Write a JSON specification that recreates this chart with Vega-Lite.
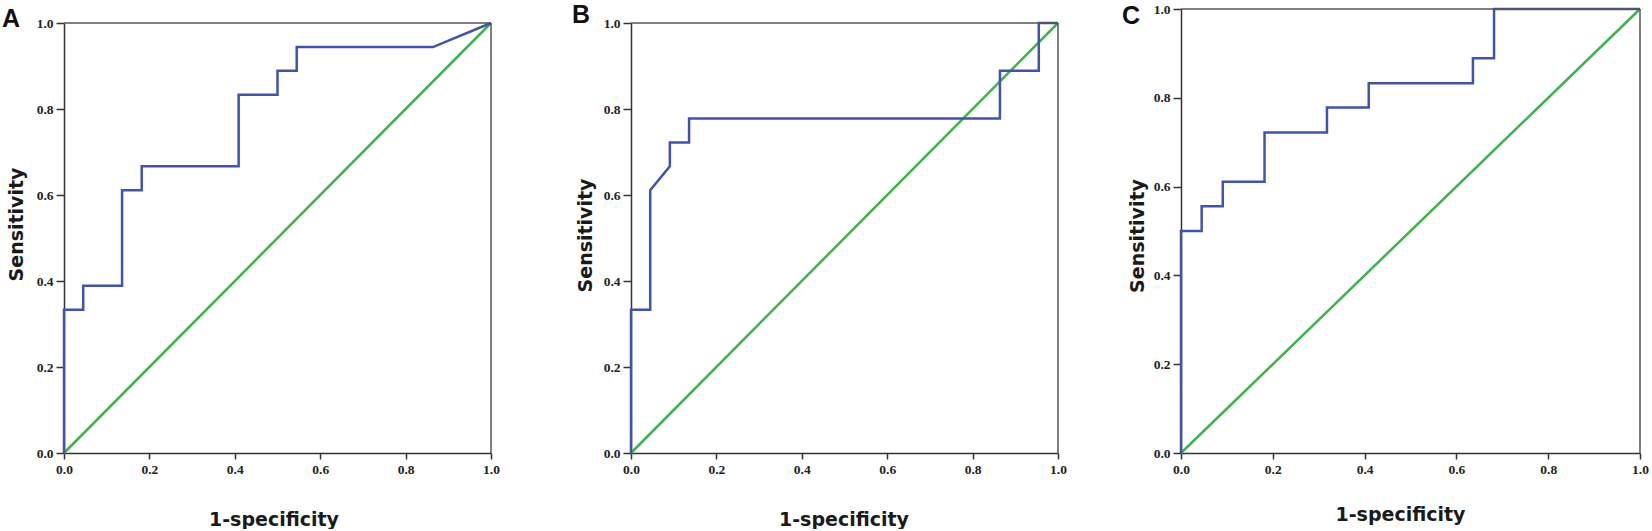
{
  "$schema": "https://vega.github.io/schema/vega-lite/v6.json",
  "description": "Three ROC curves (A, B, C) with the chance diagonal.",
  "background": "white",
  "padding": {"left": 2, "top": 2, "right": 0, "bottom": 0},
  "data": {
    "values": [
      {"panel": "A", "s": "ref", "i": 0, "x": 0, "y": 0},
      {"panel": "A", "s": "ref", "i": 1, "x": 1, "y": 1},
      {"panel": "A", "s": "roc", "i": 0, "x": 0, "y": 0},
      {"panel": "A", "s": "roc", "i": 1, "x": 0, "y": 0.333},
      {"panel": "A", "s": "roc", "i": 2, "x": 0.045, "y": 0.333},
      {"panel": "A", "s": "roc", "i": 3, "x": 0.045, "y": 0.389},
      {"panel": "A", "s": "roc", "i": 4, "x": 0.136, "y": 0.389},
      {"panel": "A", "s": "roc", "i": 5, "x": 0.136, "y": 0.611},
      {"panel": "A", "s": "roc", "i": 6, "x": 0.182, "y": 0.611},
      {"panel": "A", "s": "roc", "i": 7, "x": 0.182, "y": 0.667},
      {"panel": "A", "s": "roc", "i": 8, "x": 0.409, "y": 0.667},
      {"panel": "A", "s": "roc", "i": 9, "x": 0.409, "y": 0.833},
      {"panel": "A", "s": "roc", "i": 10, "x": 0.5, "y": 0.833},
      {"panel": "A", "s": "roc", "i": 11, "x": 0.5, "y": 0.889},
      {"panel": "A", "s": "roc", "i": 12, "x": 0.545, "y": 0.889},
      {"panel": "A", "s": "roc", "i": 13, "x": 0.545, "y": 0.944},
      {"panel": "A", "s": "roc", "i": 14, "x": 0.864, "y": 0.944},
      {"panel": "A", "s": "roc", "i": 15, "x": 1, "y": 1},
      {"panel": "B", "s": "ref", "i": 0, "x": 0, "y": 0},
      {"panel": "B", "s": "ref", "i": 1, "x": 1, "y": 1},
      {"panel": "B", "s": "roc", "i": 0, "x": 0, "y": 0},
      {"panel": "B", "s": "roc", "i": 1, "x": 0, "y": 0.333},
      {"panel": "B", "s": "roc", "i": 2, "x": 0.045, "y": 0.333},
      {"panel": "B", "s": "roc", "i": 3, "x": 0.045, "y": 0.611},
      {"panel": "B", "s": "roc", "i": 4, "x": 0.091, "y": 0.667},
      {"panel": "B", "s": "roc", "i": 5, "x": 0.091, "y": 0.722},
      {"panel": "B", "s": "roc", "i": 6, "x": 0.136, "y": 0.722},
      {"panel": "B", "s": "roc", "i": 7, "x": 0.136, "y": 0.778},
      {"panel": "B", "s": "roc", "i": 8, "x": 0.864, "y": 0.778},
      {"panel": "B", "s": "roc", "i": 9, "x": 0.864, "y": 0.889},
      {"panel": "B", "s": "roc", "i": 10, "x": 0.955, "y": 0.889},
      {"panel": "B", "s": "roc", "i": 11, "x": 0.955, "y": 1},
      {"panel": "B", "s": "roc", "i": 12, "x": 1, "y": 1},
      {"panel": "C", "s": "ref", "i": 0, "x": 0, "y": 0},
      {"panel": "C", "s": "ref", "i": 1, "x": 1, "y": 1},
      {"panel": "C", "s": "roc", "i": 0, "x": 0, "y": 0},
      {"panel": "C", "s": "roc", "i": 1, "x": 0, "y": 0.5},
      {"panel": "C", "s": "roc", "i": 2, "x": 0.045, "y": 0.5},
      {"panel": "C", "s": "roc", "i": 3, "x": 0.045, "y": 0.556},
      {"panel": "C", "s": "roc", "i": 4, "x": 0.091, "y": 0.556},
      {"panel": "C", "s": "roc", "i": 5, "x": 0.091, "y": 0.611},
      {"panel": "C", "s": "roc", "i": 6, "x": 0.182, "y": 0.611},
      {"panel": "C", "s": "roc", "i": 7, "x": 0.182, "y": 0.722},
      {"panel": "C", "s": "roc", "i": 8, "x": 0.318, "y": 0.722},
      {"panel": "C", "s": "roc", "i": 9, "x": 0.318, "y": 0.778},
      {"panel": "C", "s": "roc", "i": 10, "x": 0.409, "y": 0.778},
      {"panel": "C", "s": "roc", "i": 11, "x": 0.409, "y": 0.833},
      {"panel": "C", "s": "roc", "i": 12, "x": 0.636, "y": 0.833},
      {"panel": "C", "s": "roc", "i": 13, "x": 0.636, "y": 0.889},
      {"panel": "C", "s": "roc", "i": 14, "x": 0.682, "y": 0.889},
      {"panel": "C", "s": "roc", "i": 15, "x": 0.682, "y": 1},
      {"panel": "C", "s": "roc", "i": 16, "x": 1, "y": 1}
    ]
  },
  "bounds": "flush",
  "spacing": 123,
  "hconcat": [
    {
      "width": 444,
      "height": 444,
      "title": {"text": "A", "dx": -62, "dy": 27},
      "layer": [
        {
          "transform": [{"filter": "datum.panel === 'A' && datum.s === 'ref'"}],
          "mark": {"type": "line", "color": "#3cb44a", "strokeWidth": 2.5},
          "encoding": {
            "x": {"field": "x", "type": "quantitative", "scale": {"domain": [0, 1], "nice": false, "range": [0, 427]},
              "axis": {"title": "1-specificity", "values": [0, 0.2, 0.4, 0.6, 0.8, 1], "format": ".1f", "titleX": 209.5, "titleY": 72}},
            "y": {"field": "y", "type": "quantitative", "scale": {"domain": [0, 1], "nice": false, "range": [444, 14]},
              "axis": {"title": "Sensitivity", "values": [0, 0.2, 0.4, 0.6, 0.8, 1], "format": ".1f", "titleX": -42, "titleY": 215}},
            "order": {"field": "i"}
          }
        },
        {
          "transform": [{"filter": "datum.panel === 'A' && datum.s === 'roc'"}],
          "mark": {"type": "line", "color": "#4153b1", "strokeWidth": 2.5},
          "encoding": {
            "x": {"field": "x", "type": "quantitative"},
            "y": {"field": "y", "type": "quantitative"},
            "order": {"field": "i"}
          }
        },
        {
          "transform": [{"filter": "datum.panel === 'A' && datum.s === 'ref' && datum.i === 0"}],
          "mark": {"type": "rule", "color": "#555", "strokeWidth": 1.5},
          "encoding": {"x": {"datum": 1}, "y": {"datum": 0}, "y2": {"datum": 1}}
        },
        {
          "transform": [{"filter": "datum.panel === 'A' && datum.s === 'ref' && datum.i === 0"}],
          "mark": {"type": "rule", "color": "#555", "strokeWidth": 1.5},
          "encoding": {"x": {"datum": 0}, "x2": {"datum": 1}, "y": {"datum": 1}}
        }
      ]
    },
    {
      "width": 427,
      "height": 444,
      "title": {"text": "B", "dx": -59, "dy": 23},
      "layer": [
        {
          "transform": [{"filter": "datum.panel === 'B' && datum.s === 'ref'"}],
          "mark": {"type": "line", "color": "#3cb44a", "strokeWidth": 2.5},
          "encoding": {
            "x": {"field": "x", "type": "quantitative", "scale": {"domain": [0, 1], "nice": false},
              "axis": {"title": "1-specificity", "values": [0, 0.2, 0.4, 0.6, 0.8, 1], "format": ".1f", "titleX": 212.5, "titleY": 72}},
            "y": {"field": "y", "type": "quantitative", "scale": {"domain": [0, 1], "nice": false, "range": [444, 14]},
              "axis": {"title": "Sensitivity", "values": [0, 0.2, 0.4, 0.6, 0.8, 1], "format": ".1f", "titleX": -40, "titleY": 226}},
            "order": {"field": "i"}
          }
        },
        {
          "transform": [{"filter": "datum.panel === 'B' && datum.s === 'roc'"}],
          "mark": {"type": "line", "color": "#4153b1", "strokeWidth": 2.5},
          "encoding": {
            "x": {"field": "x", "type": "quantitative"},
            "y": {"field": "y", "type": "quantitative"},
            "order": {"field": "i"}
          }
        },
        {
          "transform": [{"filter": "datum.panel === 'B' && datum.s === 'ref' && datum.i === 0"}],
          "mark": {"type": "rule", "color": "#555", "strokeWidth": 1.5},
          "encoding": {"x": {"datum": 1}, "y": {"datum": 0}, "y2": {"datum": 1}}
        },
        {
          "transform": [{"filter": "datum.panel === 'B' && datum.s === 'ref' && datum.i === 0"}],
          "mark": {"type": "rule", "color": "#555", "strokeWidth": 1.5},
          "encoding": {"x": {"datum": 0}, "x2": {"datum": 1}, "y": {"datum": 1}}
        }
      ]
    },
    {
      "width": 459,
      "height": 444,
      "title": {"text": "C", "dx": -59, "dy": 31},
      "layer": [
        {
          "transform": [{"filter": "datum.panel === 'C' && datum.s === 'ref'"}],
          "mark": {"type": "line", "color": "#3cb44a", "strokeWidth": 2.5},
          "encoding": {
            "x": {"field": "x", "type": "quantitative", "scale": {"domain": [0, 1], "nice": false},
              "axis": {"title": "1-specificity", "values": [0, 0.2, 0.4, 0.6, 0.8, 1], "format": ".1f", "titleX": 219, "titleY": 67}},
            "y": {"field": "y", "type": "quantitative", "scale": {"domain": [0, 1], "nice": false},
              "axis": {"title": "Sensitivity", "values": [0, 0.2, 0.4, 0.6, 0.8, 1], "format": ".1f", "titleX": -38, "titleY": 226.5}},
            "order": {"field": "i"}
          }
        },
        {
          "transform": [{"filter": "datum.panel === 'C' && datum.s === 'roc'"}],
          "mark": {"type": "line", "color": "#4153b1", "strokeWidth": 2.5},
          "encoding": {
            "x": {"field": "x", "type": "quantitative"},
            "y": {"field": "y", "type": "quantitative"},
            "order": {"field": "i"}
          }
        },
        {
          "transform": [{"filter": "datum.panel === 'C' && datum.s === 'ref' && datum.i === 0"}],
          "mark": {"type": "rule", "color": "#555", "strokeWidth": 1.5},
          "encoding": {"x": {"datum": 1}, "y": {"datum": 0}, "y2": {"datum": 1}}
        },
        {
          "transform": [{"filter": "datum.panel === 'C' && datum.s === 'ref' && datum.i === 0"}],
          "mark": {"type": "rule", "color": "#555", "strokeWidth": 1.5},
          "encoding": {"x": {"datum": 0}, "x2": {"datum": 1}, "y": {"datum": 1}}
        }
      ]
    }
  ],
  "config": {
    "view": {"stroke": null},
    "axis": {
      "grid": false,
      "domainColor": "#333",
      "domainWidth": 1.5,
      "tickColor": "#333",
      "tickWidth": 1.5,
      "labelFont": "Liberation Serif",
      "labelFontWeight": "bold",
      "labelFontSize": 13.5,
      "labelColor": "#222",
      "labelFlush": false,
      "labelOverlap": false,
      "titleFont": "DejaVu Sans",
      "titleFontWeight": "bold",
      "titleFontSize": 19,
      "titleColor": "#1a1a1a",
      "titleBaseline": "alphabetic",
      "zindex": 1
    },
    "axisX": {"tickSize": 6, "labelPadding": 3},
    "axisY": {"tickSize": 8, "labelPadding": 3, "titleAngle": 270},
    "title": {
      "font": "Liberation Sans",
      "fontWeight": "bold",
      "fontSize": 25,
      "color": "#111",
      "anchor": "start",
      "frame": "group",
      "baseline": "alphabetic",
      "offset": 0
    }
  }
}
